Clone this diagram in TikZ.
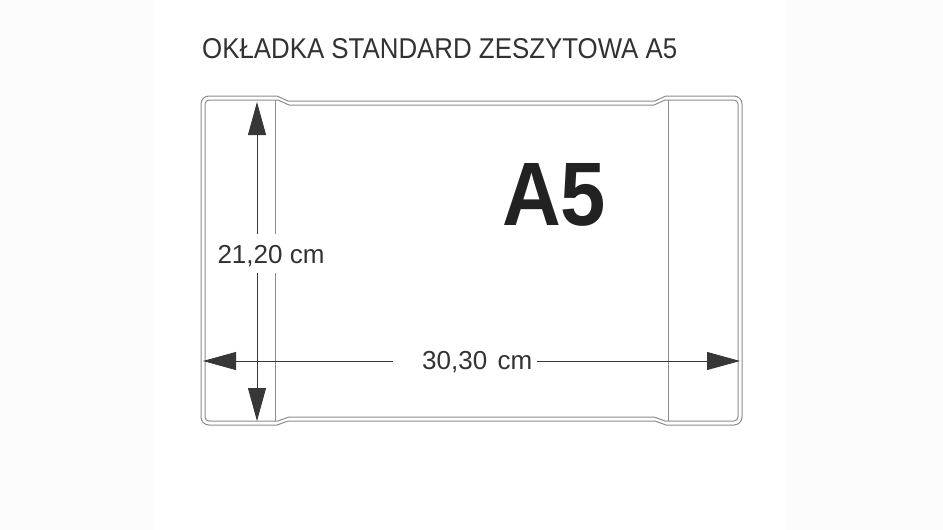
\documentclass[tikz,border=0pt]{standalone}
\usepackage{fontspec}
\setmainfont{Liberation Sans}
\usetikzlibrary{arrows.meta}
\definecolor{outl}{RGB}{140,140,140}
\definecolor{dimc}{RGB}{55,55,55}
\definecolor{txt}{RGB}{50,50,50}
\definecolor{bigt}{RGB}{34,34,34}
\definecolor{band}{RGB}{252,252,252}
\tikzset{
  outline/.style={draw=outl, line width=1pt},
  foldline/.style={draw=outl, line width=1pt},
  dimarrow/.style={draw=dimc, fill=dimc, line width=0.8pt, -{Triangle[length=33pt,width=18pt]}},
  dimboth/.style={draw=dimc, fill=dimc, line width=0.8pt, {Triangle[length=33pt,width=18pt]}-{Triangle[length=33pt,width=18pt]}},
  dimlabel/.style={font=\fontsize{26}{30}\selectfont, text=txt, inner sep=0pt},
}
\begin{document}
\begin{tikzpicture}[x=1pt,y=-1pt]
\useasboundingbox (0,0) rectangle (943,530);
\fill[white] (0,0) rectangle (943,530);
\fill[band] (0,0) rectangle (155,530);
\fill[band] (787,0) rectangle (943,530);

% outer contour
\draw[outline] (201,104) arc[start angle=180,end angle=270,radius=8]
  -- (277,96) -- (288,101) -- (655,101) -- (666,96) -- (734,96)
  arc[start angle=270,end angle=360,radius=8]
  -- (742,417) arc[start angle=0,end angle=90,radius=8]
  -- (666,425) -- (655,421) -- (288,421) -- (277,425) -- (209,425)
  arc[start angle=90,end angle=180,radius=8] -- cycle;
% inner contour
\draw[outline] (205,104) arc[start angle=180,end angle=270,radius=4]
  -- (278,100) -- (289,105) -- (654,105) -- (665,100) -- (734,100)
  arc[start angle=270,end angle=360,radius=4]
  -- (738,417) arc[start angle=0,end angle=90,radius=4]
  -- (665,421) -- (654,417) -- (289,417) -- (278,421) -- (209,421)
  arc[start angle=90,end angle=180,radius=4] -- cycle;

% fold lines
\coordinate (f1t) at (275,100);
\coordinate (f1b) at (275,421);
\coordinate (f2t) at (668,100);
\coordinate (f2b) at (668,421);
\draw[foldline] (f1t) -- (f1b);
\draw[foldline] (f2t) -- (f2b);

% title
\node[anchor=base west, inner sep=0pt, text=txt] (title) at (202,58)
  {\resizebox{475pt}{20pt}{OKŁADKA STANDARD ZESZYTOWA A5}};

% big A5
\node[anchor=base west, inner sep=0pt, text=bigt] (afive) at (502,225)
  {\resizebox{104pt}{62pt}{\bfseries A5}};

% vertical dimension
\coordinate (vt) at (257,102);
\coordinate (vb) at (257,421);
\draw[dimboth] (vt) -- (vb);
\node[dimlabel, anchor=base, fill=white, inner xsep=6pt, inner ysep=9pt,
  text height=20pt, text depth=1pt] (vlabel) at (271,263) {21,20 cm};

% horizontal dimension
\coordinate (hl) at (203,361);
\coordinate (hr) at (740,361);
\coordinate (hgl) at (393,361);
\coordinate (hgr) at (537,361);
\draw[dimarrow] (hgl) -- (hl);
\draw[dimarrow] (hgr) -- (hr);
\node[dimlabel, anchor=base west] (hlabel) at (422,369.5) {30,30\hspace{0.4em}cm};
\end{tikzpicture}
\end{document}
